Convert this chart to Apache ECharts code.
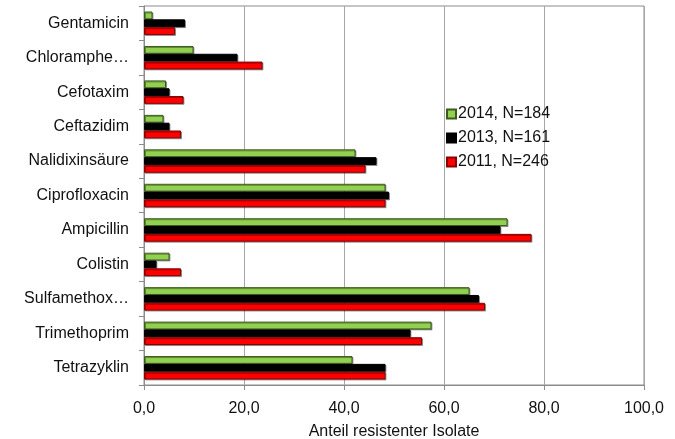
<!DOCTYPE html>
<html>
<head>
<meta charset="utf-8">
<script src="https://cdn.jsdelivr.net/npm/echarts@6/dist/echarts.min.js"></script>
<style>
  html, body { margin: 0; padding: 0; background: #fff; }
  #chart { width: 675px; height: 439px; }
</style>
</head>
<body>
<div id="chart"></div>
<script>
// categories top to bottom
var categories = ['Gentamicin', 'Chloramphe\u2026', 'Cefotaxim', 'Ceftazidim', 'Nalidixinsäure',
  'Ciprofloxacin', 'Ampicillin', 'Colistin', 'Sulfamethox\u2026', 'Trimethoprim', 'Tetrazyklin']
var values2014 = [1.7, 9.9, 4.4, 3.9, 42.3, 48.3, 72.7, 5.1, 65.1, 57.5, 41.7]
var values2013 = [8.2, 18.7, 5.1, 5.1, 46.5, 49.0, 71.3, 2.5, 67.0, 53.3, 48.3]
var values2011 = [6.2, 23.7, 7.9, 7.4, 44.3, 48.3, 77.5, 7.4, 68.2, 55.6, 48.3]
var seriesNames = ['2014, N=184', '2013, N=161', '2011, N=246']

var chart = echarts.init(document.getElementById('chart'))

function barSeries(name, data, color, border) {
  return {
    name: name,
    type: 'bar',
    data: data,
    barGap: '0%',
    barCategoryGap: '32%',
    itemStyle: {
      color: color,
      borderColor: border,
      borderWidth: 1,
      shadowColor: 'rgba(0,0,0,0.35)',
      shadowOffsetX: 1,
      shadowOffsetY: 1
    }
  }
}

chart.setOption({
  animation: false,
  textStyle: { fontFamily: 'Liberation Sans, Arial, sans-serif' },
  legend: {
    orient: 'vertical',
    left: 441,
    top: 101,
    itemWidth: 9,
    itemHeight: 9,
    itemGap: 8,
    icon: 'rect',
    data: seriesNames,
    textStyle: { fontSize: 16, color: '#111', padding: [0, 0, 0, -3] }
  },
  grid: {
    left: 144,
    right: 31,
    top: 6,
    bottom: 54,
    outerBoundsMode: 'none',
    containLabel: false,
    show: true,
    borderColor: '#8c8c8c',
    borderWidth: 1
  },
  xAxis: {
    type: 'value',
    min: 0,
    max: 100,
    interval: 20,
    name: 'Anteil resistenter Isolate',
    nameLocation: 'middle',
    nameGap: 39,
    nameMoveOverlap: false,
    nameTextStyle: { fontSize: 16, color: '#111' },
    axisLine: { show: true, lineStyle: { color: '#8c8c8c' } },
    axisTick: { show: true, length: 5, lineStyle: { color: '#8c8c8c' } },
    axisLabel: {
      fontSize: 16,
      color: '#111',
      margin: 16,
      formatter: function (v) { return v.toFixed(1).replace('.', ',') }
    },
    splitLine: { show: true, lineStyle: { color: '#a6a6a6' } }
  },
  yAxis: {
    type: 'category',
    inverse: true,
    data: categories,
    axisLine: { show: true, lineStyle: { color: '#8c8c8c' } },
    axisTick: { show: true, length: 5, lineStyle: { color: '#8c8c8c' } },
    axisLabel: { fontSize: 16, color: '#111', margin: 15 }
  },
  series: [
    barSeries(seriesNames[0], values2014, '#92d050', '#3d5a1e'),
    barSeries(seriesNames[1], values2013, '#000000', '#000000'),
    barSeries(seriesNames[2], values2011, '#ff0000', '#8b0000')
  ]
})
</script>
</body>
</html>
